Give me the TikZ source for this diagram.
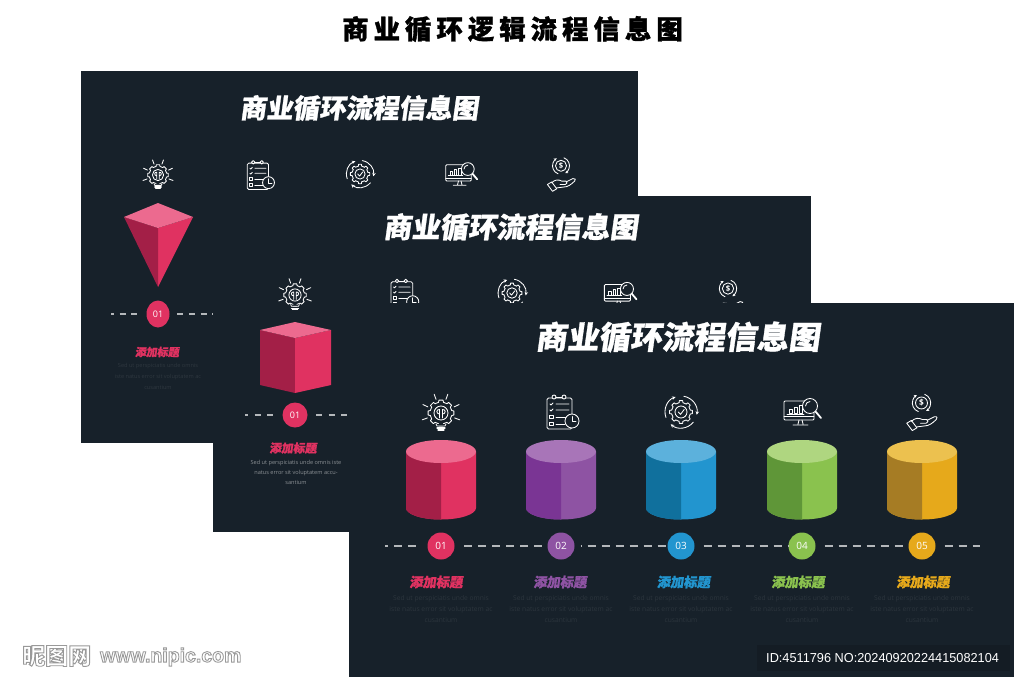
\documentclass[tikz,border=0pt]{standalone}
\usepackage{fontspec}
\usetikzlibrary{arrows.meta,shapes.geometric,calc}
\setmainfont{Open Sans}
\newfontfamily\cjktop[LetterSpace=19,FakeBold=1.2]{Noto Sans CJK SC}
\newfontfamily\cjkslant[FakeSlant=.14,FakeBold=1]{Noto Sans CJK SC}
\newfontfamily\cjkplain{Noto Sans CJK SC}
\newfontfamily\idfont{Liberation Sans}
\newfontfamily\idthin[FakeStretch=.98]{Liberation Sans}
\newcommand{\outlined}[1]{\special{pdf:code q 1 Tr 0.9 w 0.6 G}#1\special{pdf:code Q}}
\definecolor{panelc}{HTML}{17212A}
\definecolor{idbox}{HTML}{141C24}
\definecolor{redD}{HTML}{A31F47}\definecolor{redL}{HTML}{E03261}\definecolor{redT}{HTML}{EC6A8F}
\definecolor{purD}{HTML}{7A3594}\definecolor{purL}{HTML}{8E53A3}\definecolor{purT}{HTML}{A875B8}
\definecolor{bluD}{HTML}{10709D}\definecolor{bluL}{HTML}{2295CF}\definecolor{bluT}{HTML}{5CB1DC}
\definecolor{greD}{HTML}{5F9638}\definecolor{greL}{HTML}{8AC24E}\definecolor{greT}{HTML}{AFD680}
\definecolor{oraD}{HTML}{A67C24}\definecolor{oraL}{HTML}{E6A91B}\definecolor{oraT}{HTML}{ECC14F}
\tikzset{
  panel/.style={fill=panelc,draw=none},
  ic/.style={draw=white,line width=.85pt,line cap=round,line join=round},
  dashbase/.style={draw=white!68!panelc,line width=1.4pt},
  dashA/.style={dashbase,dash pattern=on 6pt off 5.7pt},
  dashB/.style={dashbase,dash pattern=on 6pt off 6.5pt},
  dashC/.style={dashbase,dash pattern=on 8pt off 6pt},
  numdot/.style={circle,minimum size=27pt,inner sep=0pt,text=white,font=\fontsize{10}{10}\selectfont},
  desc/.style={align=center,inner sep=0pt,text=#1},
  iconbulb/.pic={
    \foreach \a in {0,45,...,315}{
      \draw[ic] ({\a-13}:11) -- ({\a-9}:13) -- ({\a+9}:13) -- ({\a+13}:11) -- ({\a+32}:11);}
    \draw[ic] (0,0) circle (7);
    \draw[ic] (-1.5,5) -- (-1.5,-1) (1.5,5) -- (1.5,-1) (-1.5,1) .. controls (-5,1) and (-5,-4) .. (-1.5,-3.5) -- (-1.5,-1) (1.5,1) .. controls (5,1) and (5,-4) .. (1.5,-3.5) -- (1.5,-1);
    \draw[ic,fill=panelc] (-5,11) -- (-4,13) -- (4,13) -- (5,11);
    \draw[ic,line width=1.1pt] (-4,15) -- (4,15) (-3,17) -- (3,17);
    \foreach \a in {-110,-70,-25,-155,20,160}{\draw[ic] (\a:14.5) -- (\a:20);}
  },
  iconcheck/.pic={
    \draw[ic,rounded corners=1.5pt] (-15,-14) rectangle (10,17);
    \draw[ic,fill=panelc] (-8,-15) circle (2) (2,-15) circle (2);
    \draw[ic] (-6,-15) -- (0,-15);
    \draw[ic] (-12,-8) -- (-11,-7) -- (-9,-9) (-6,-8) -- (7,-8);
    \draw[ic] (-12,-2) -- (-11,-1) -- (-9,-3) (-6,-2) -- (7,-2);
    \draw[ic] (-12.5,3) rectangle (-9,6.5) (-12.5,10) rectangle (-9,13.5);
    \draw[ic] (-6,5) -- (4,5) (-6,12) -- (3,12);
    \draw[ic,fill=panelc] (10,9) circle (7);
    \draw[ic] (10,4.5) -- (10,9.5) -- (14,9.5);
  },
  icongear/.pic={
    \foreach \a in {0,45,...,315}{
      \draw[ic] ({\a-12}:9.5) -- ({\a-8}:11.5) -- ({\a+8}:11.5) -- ({\a+12}:9.5) -- ({\a+33}:9.5);}
    \draw[ic] (0,0) circle (6);
    \draw[ic] (-2.7,0) -- (-.5,2.4) -- (3.2,-2.5);
    \foreach \a in {-80,40,160}{
      \draw[ic,-{Stealth[length=3.5pt,width=3.5pt]}] (\a:16) arc[start angle=\a,end angle=\a+90,radius=16];}
  },
  iconmon/.pic={
    \draw[ic,rounded corners=1pt] (-18,-12) rectangle (12,7);
    \draw[ic] (-18,3.5) -- (12,3.5);
    \draw[ic] (-3,7) -- (-4,11) (0,7) -- (1,11) (-9,12) -- (6,12);
    \draw[ic] (-13,0) rectangle (-10,-4) (-8,0) rectangle (-5,-6) (-3,0) rectangle (0,-8);
    \draw[ic] (-15,1) -- (2,1);
    \draw[ic,fill=panelc] (8,-7) circle (7.5);
    \draw[ic] (8,-7) ++(-4.5,0) arc[start angle=180,end angle=270,radius=4.5];
    \draw[ic,line width=1.8pt] (13.5,-1.5) -- (19,5);
  },
  iconhand/.pic={
    \draw[ic] (0,-12) circle (6.5);
    \node[transform shape,text=white,inner sep=0pt,font=\fontsize{9}{9}\selectfont\bfseries] at (0,-12) {\$};
    \foreach \a in {-70,110}{
      \draw[ic,-{Stealth[length=3pt,width=3pt]}] ($(0,-12)+(\a:10)$) arc[start angle=\a,end angle=\a+130,radius=10];}
    \draw[ic] (-16,10) -- (-11,7) -- (-5,15) -- (-10,18) -- cycle;
    \draw[ic] (-11,8) .. controls (-7,4) and (-3,4) .. (1,6) -- (6,6) .. controls (8,7) and (7,10) .. (5,10) -- (-1,10);
    \draw[ic] (6,7) -- (14,3) .. controls (17,2) and (18,5) .. (16,6) .. controls (12,10) and (8,13) .. (3,13) -- (-5,14);
  }
}
\newcommand{\sedA}{Sed ut perspiciatis unde omnis\\iste natus error sit voluptatem ac\\cusantium}
\newcommand{\sedB}{Sed ut perspiciatis unde omnis iste\\natus error sit voluptatem accu-\\santium}
\begin{document}
\begin{tikzpicture}[x=1pt,y=-1pt]
\useasboundingbox (0,0) rectangle (1024,685);
\fill[white] (0,0) rectangle (1024,685);
\node[text=black,inner sep=0pt] (maintitle) at (512.5,29) {\fontsize{26.4}{26.4}\cjktop\bfseries 商业循环逻辑流程信息图};

% panel A
\path[panel] (81,71) rectangle (638,443);
\node[text=white,inner sep=0pt] (titleA) at (359,108) {\fontsize{26.5}{26.5}\cjkslant\bfseries 商业循环流程信息图};
\pic[scale=.8] at (158,175) {iconbulb};
\pic[scale=.85] at (260,175) {iconcheck};
\pic[scale=.85] at (360,174) {icongear};
\pic[scale=.85] at (461,175) {iconmon};
\pic[scale=.85] at (561,176) {iconhand};
\fill[redL] (158,228) -- (193,217) -- (158,287) -- cycle;
\fill[redD] (158,228) -- (124,217) -- (158,287) -- cycle;
\fill[redT] (158,203) -- (193,217) -- (158,228) -- (124,217) -- cycle;
\node[ellipse,fill=redL,minimum width=23pt,minimum height=27pt,inner sep=0pt,text=white,font=\fontsize{9}{9}\selectfont] (a1) at (158,314) {01};
\coordinate (aL) at (111,314);
\coordinate (aR) at (213,314);
\draw[dashA,dash phase=3pt,shorten >=9pt] (aL) -- (a1);
\draw[dashA,shorten <=7.5pt] (a1) -- (aR);
\node[text=redL,inner sep=0pt] (headA) at (157,352) {\fontsize{11}{11}\cjkslant\bfseries 添加标题};
\node[desc=white!10!panelc,font=\fontsize{5.6}{11}\selectfont] (textA) at (158,376) {\sedA};

% panel B
\path[panel] (213,196) rectangle (811,532);
\node[text=white,inner sep=0pt] (titleB) at (510.5,227) {\fontsize{28.3}{28.3}\cjkslant\bfseries 商业循环流程信息图};
\pic[scale=.87] at (295,295) {iconbulb};
\pic[scale=.87] at (404,294) {iconcheck};
\pic[scale=.87] at (512,293) {icongear};
\pic[scale=.87] at (620,295) {iconmon};
\pic[scale=.87] at (728,299) {iconhand};
\fill[redD] (260,330) -- (295,338) -- (295,393) -- (260,385) -- cycle;
\fill[redL] (331,330) -- (295,338) -- (295,393) -- (331,385) -- cycle;
\fill[redT] (295,322) -- (331,330) -- (295,338) -- (260,330) -- cycle;
\node[numdot,fill=redL,minimum size=25pt,font=\fontsize{9}{9}\selectfont] (b1) at (295,415) {01};
\coordinate (bL) at (245,415);
\coordinate (bR) at (349,415);
\draw[dashB,dash phase=3pt,shorten >=9pt] (bL) -- (b1);
\draw[dashB,shorten <=8.5pt] (b1) -- (bR);
\node[text=redL,inner sep=0pt] (headB) at (293,448) {\fontsize{11.8}{11.8}\cjkslant\bfseries 添加标题};
\node[desc=white!50!panelc,font=\fontsize{5.6}{10}\selectfont] (textB) at (296,472) {\sedB};

% panel C
\path[panel] (349,303) rectangle (1014,677);
\node[text=white,inner sep=0pt] (titleC) at (677.5,337) {\fontsize{31.6}{31.6}\cjkslant\bfseries 商业循环流程信息图};
\pic at (441,413) {iconbulb};
\pic at (562,412) {iconcheck};
\pic at (681,412) {icongear};
\pic at (802,413) {iconmon};
\pic[scale=.92] at (921.5,414) {iconhand};
\foreach \cx/\hx/\c/\num in {441/436/red/01,561/560/pur/02,681/683.5/blu/03,802/798/gre/04,922/923/ora/05}{
  \fill[\c L] (\cx-35,451.5) -- (\cx-35,508) arc[start angle=180,end angle=0,x radius=35,y radius=11.5] -- (\cx+35,451.5) -- cycle;
  \fill[\c D] (\cx-35,451.5) -- (\cx-35,508) arc[start angle=180,end angle=90,x radius=35,y radius=11.5] -- (\cx,451.5) -- cycle;
  \fill[\c T] (\cx,451.5) ellipse[x radius=35,y radius=11.5];
  \node[numdot,fill=\c L] (c\num) at (\cx,546) {\num};
  \node[text=\c L,inner sep=0pt] (head\num) at (\hx,582) {\fontsize{13.3}{13.3}\cjkslant\bfseries 添加标题};
  \node[desc=white!9!panelc,font=\fontsize{6.7}{11}\selectfont] (text\num) at (\cx,609) {\sedA};
}
\coordinate (cL) at (385,546);
\coordinate (cR) at (980,546);
\draw[dashC,dash phase=5pt,shorten >=10pt] (cL) -- (c01);
\draw[dashC,shorten <=9.5pt] (c01) -- (c02);
\draw[dashC,dash phase=7pt,shorten <=6pt] (c02) -- (c03);
\draw[dashC,shorten <=9pt] (c03) -- (c04);
\draw[dashC,shorten <=9pt] (c04) -- (c05);
\draw[dashC,shorten <=9pt] (c05) -- (cR);

% watermark and id
\node[anchor=west,text=white,inner sep=0pt] (markA) at (22,656) {\fontsize{23}{23}\cjkplain\bfseries\outlined{昵图网}};
\node[anchor=west,text=white,inner sep=0pt] (markB) at (100,657) {\fontsize{19.5}{19.5}\idfont\bfseries\outlined{www.nipic.com}};
\fill[idbox] (757,645) rectangle (1010,671);
\node[anchor=west,text=white,inner sep=0pt,font=\fontsize{13}{13}\idthin] (idtext) at (766,658) {ID:4511796 NO:20240920224415082104};
\end{tikzpicture}
\end{document}
